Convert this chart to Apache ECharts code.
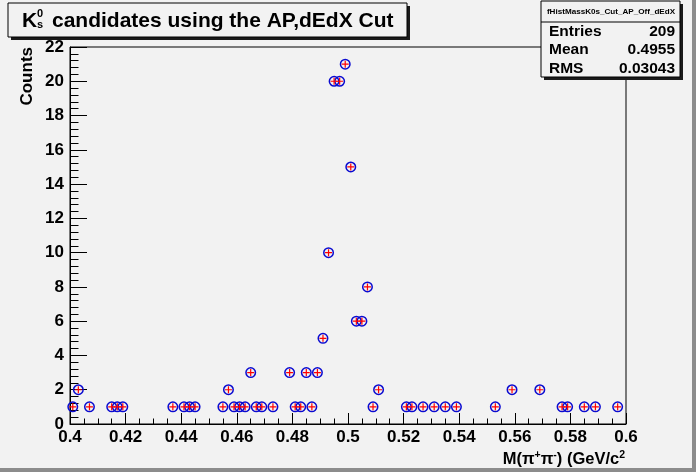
<!DOCTYPE html>
<html>
<head>
<meta charset="utf-8">
<script src="https://cdn.jsdelivr.net/npm/echarts@6/dist/echarts.min.js"></script>
<style>
html,body{margin:0;padding:0;background:#f2f2f2;}
#c{width:696px;height:472px;}
</style>
</head>
<body>
<div id="c"></div>
<script>
// Histogram bin centres (GeV/c^2) and counts
var binCenters = [0.401,0.403,0.407,0.415,0.417,0.419,0.437,0.441,0.443,0.445,
  0.455,0.457,0.459,0.461,0.463,0.465,0.467,0.469,0.473,0.479,0.481,0.483,0.485,
  0.487,0.489,0.491,0.493,0.495,0.497,0.499,0.501,0.503,0.505,0.507,0.509,0.511,
  0.521,0.523,0.527,0.531,0.535,0.539,0.553,0.559,0.569,0.577,0.579,0.585,0.589,0.597];
var counts = [1,2,1,1,1,1,1,1,1,1,
  1,2,1,1,1,3,1,1,1,3,1,1,3,
  1,3,5,10,20,20,21,15,6,6,8,1,2,
  1,1,1,1,1,1,1,2,2,1,1,1,1,1];
var statsLabels = ['Entries','Mean','RMS'];
var statsValues = ['209','0.4955','0.03043'];
var histName = 'fHistMassK0s_Cut_AP_Off_dEdX';
var titleMain = 'candidates using the AP,dEdX Cut';
var xTitleParts = ['M(\u03c0','+','\u03c0','-',') (GeV/c','2'];
var yTitle = 'Counts';

var FONT = '"Liberation Sans", Arial, Helvetica, sans-serif';
var BG = '#f2f2f2';
var pts = binCenters.map(function(x,i){return [x, counts[i]];});

var chart = echarts.init(document.getElementById('c'), null, {renderer:'canvas'});

var graphics = [
  // canvas bevel
  {type:'rect', shape:{x:0,y:468,width:696,height:4}, style:{fill:'#8c8c8c'}, silent:true},
  {type:'rect', shape:{x:692,y:0,width:4,height:472}, style:{fill:'#8c8c8c'}, silent:true},
  // title box
  {type:'rect', shape:{x:11,y:6,width:399,height:34}, style:{fill:'#1a1a1a'}, silent:true},
  {type:'rect', shape:{x:8,y:3,width:399,height:34}, style:{fill:BG, stroke:'#000', lineWidth:1}, silent:true},
  {type:'text', x:22, y:21, style:{text:'K', font:'bold 21px '+FONT, fill:'#000', align:'left', verticalAlign:'middle'}, silent:true},
  {type:'text', x:37, y:14, style:{text:'0', font:'bold 11px '+FONT, fill:'#000', align:'left', verticalAlign:'middle'}, silent:true},
  {type:'text', x:37, y:25, style:{text:'s', font:'bold 11px '+FONT, fill:'#000', align:'left', verticalAlign:'middle'}, silent:true},
  {type:'text', x:52, y:21, style:{text:titleMain, font:'bold 21px '+FONT, fill:'#000', align:'left', verticalAlign:'middle'}, silent:true},
  // stats box
  {type:'rect', shape:{x:544,y:4,width:139,height:76}, style:{fill:'#1a1a1a'}, silent:true},
  {type:'rect', shape:{x:541,y:1,width:139,height:76}, style:{fill:BG, stroke:'#000', lineWidth:1}, silent:true},
  {type:'line', shape:{x1:541,y1:22,x2:680,y2:22}, style:{stroke:'#000', lineWidth:1}, silent:true},
  {type:'text', x:611, y:12, style:{text:histName, font:'bold 8.1px '+FONT, fill:'#000', align:'center', verticalAlign:'middle'}, silent:true},
  // axis titles
  {type:'text', x:27, y:47, rotation:Math.PI/2, style:{text:yTitle, font:'bold 17px '+FONT, fill:'#000', align:'right', verticalAlign:'middle'}, silent:true},
  {type:'text', x:625, y:459, style:{
    text:'{n|'+xTitleParts[0]+'}{s|'+xTitleParts[1]+'}{n|'+xTitleParts[2]+'}{s|'+xTitleParts[3]+'}{n|'+xTitleParts[4]+'}{s|'+xTitleParts[5]+'}',
    align:'right', verticalAlign:'middle',
    rich:{
      n:{fontFamily:FONT, fontWeight:'bold', fontSize:16.5, lineHeight:18, fill:'#000', color:'#000'},
      s:{fontFamily:FONT, fontWeight:'bold', fontSize:10.5, lineHeight:10, verticalAlign:'top', fill:'#000', color:'#000'}
    }}, silent:true}
];
var rowY = [31.5, 50, 68.5];
statsLabels.forEach(function(l,i){
  graphics.push({type:'text', x:549, y:rowY[i], style:{text:l, font:'bold 15.5px '+FONT, fill:'#000', align:'left', verticalAlign:'middle'}, silent:true});
  graphics.push({type:'text', x:675, y:rowY[i], style:{text:statsValues[i], font:'bold 15.5px '+FONT, fill:'#000', align:'right', verticalAlign:'middle'}, silent:true});
});

var option = {
  animation:false,
  backgroundColor:BG,
  grid:{left:70, right:70, top:47, bottom:48, show:true, borderColor:'#000', borderWidth:1, backgroundColor:'transparent'},
  xAxis:{
    type:'value', min:0.4, max:0.6, interval:0.02,
    axisLine:{show:true, onZero:false, lineStyle:{color:'#000', width:1}},
    axisTick:{show:true, inside:true, length:11, lineStyle:{color:'#000', width:1}},
    minorTick:{show:true, splitNumber:4, length:5.5, lineStyle:{color:'#000', width:1}},
    splitLine:{show:false}, minorSplitLine:{show:false},
    axisLabel:{color:'#000', fontFamily:FONT, fontWeight:'bold', fontSize:17, margin:5,
      formatter:function(v){return String(parseFloat(v.toFixed(3)));}}
  },
  yAxis:{
    type:'value', min:0, max:22, interval:2,
    axisLine:{show:true, onZero:false, lineStyle:{color:'#000', width:1}},
    axisTick:{show:true, inside:true, length:17, lineStyle:{color:'#000', width:1}},
    minorTick:{show:true, splitNumber:5, length:8.5, lineStyle:{color:'#000', width:1}},
    splitLine:{show:false}, minorSplitLine:{show:false},
    axisLabel:{color:'#000', fontFamily:FONT, fontWeight:'bold', fontSize:17, margin:6}
  },
  series:[
    {type:'scatter', data:pts, symbol:'circle', symbolSize:9.5,
      itemStyle:{color:'rgba(0,0,0,0)', borderColor:'#0a0ad0', borderWidth:1.5, opacity:1},
      emphasis:{disabled:true}, silent:true, z:2},
    {type:'scatter', data:pts, symbol:'path://M5 0L5 10M0 5L10 5', symbolSize:7,
      itemStyle:{color:'rgba(0,0,0,0)', borderColor:'#ff0000', borderWidth:1.2, opacity:1},
      emphasis:{disabled:true}, silent:true, z:3}
  ],
  graphic:graphics
};
chart.setOption(option);
</script>
</body>
</html>
